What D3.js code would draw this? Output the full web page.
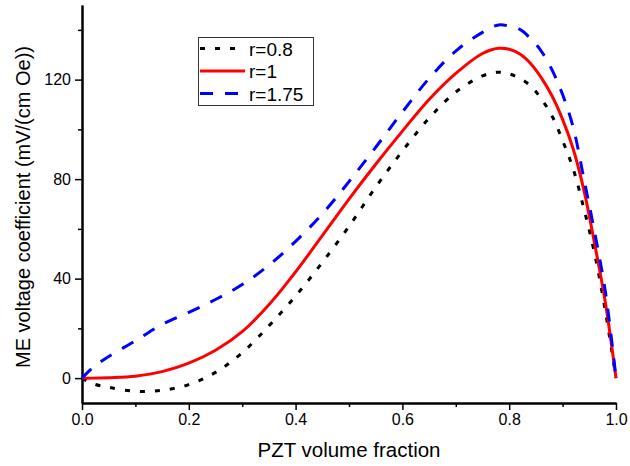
<!DOCTYPE html>
<html>
<head>
<meta charset="utf-8">
<script src="https://cdn.jsdelivr.net/npm/d3@7"></script>
<style>
  body { margin: 0; background: #fff; }
  svg { font-family: "Liberation Sans", Arial, sans-serif; }
</style>
</head>
<body>
<div id="chart"></div>
<script>
const width = 630;
const height = 466;
const margin = { left: 82, right: 14, top: 5, bottom: 63 };

// PZT volume fraction (shared x grid)
var fraction = [0, 0.02, 0.05, 0.1, 0.15, 0.2, 0.25, 0.3, 0.35, 0.4, 0.45, 0.5, 0.55, 0.6,
    0.65, 0.7, 0.75, 0.78, 0.8, 0.82, 0.84, 0.86, 0.88, 0.9, 0.92, 0.94, 0.96, 0.98, 1.0];

// ME voltage coefficient, mV/(cm Oe)
var r08 = [0, -2.2, -3.7, -5.3, -4.9, -2.6, 2.3, 10.2, 21, 33, 46.5, 61, 76.8, 91.3,
    104.5, 115, 121.5, 123, 122.3, 120.5, 117.5, 112.3, 105.5, 95.5, 84, 68, 50, 27, 0];
var r1 = [0, 0, 0.2, 0.8, 2.6, 6.0, 11.2, 18.7, 29.5, 42.7, 57.3, 72, 86, 99.3,
    112, 122.5, 130.5, 132.6, 132.2, 130.3, 126.5, 120.8, 113.5, 104, 92, 75.5, 54, 30.5, 0];
var r175 = [0, 4.2, 8.7, 15, 21.6, 26.4, 31.6, 37.6, 45.4, 55, 66, 79, 92.8, 107,
    120.5, 131.5, 139, 142, 141.5, 140.2, 136.5, 131.5, 124, 114, 100.7, 80, 58.6, 34.9, 0];

var seriesNames = ["r=0.8", "r=1", "r=1.75"];
var seriesValues = [r08, r1, r175];
var seriesColors = ["#000000", "#ff0000", "#0000ff"];
var seriesDash = ["5,10", null, "13,12"];

var xTicks = [0, 0.2, 0.4, 0.6, 0.8, 1.0];
var xMinor = [0.1, 0.3, 0.5, 0.7, 0.9];
var yTicks = [0, 40, 80, 120];
var yMinor = [20, 60, 100, 140];

var svg = d3.select('#chart').append('svg')
    .attr('width', width)
    .attr('height', height);

var xScale = d3.scaleLinear().domain([0, 1]).range([margin.left, width - margin.right]);
var yScale = d3.scaleLinear().domain([-10, 150]).range([height - margin.bottom, margin.top]);

// axes
var xAxis = d3.axisBottom(xScale).tickValues(xTicks).tickFormat(d3.format('.1f')).tickSizeInner(7).tickSizeOuter(0).tickPadding(4);
var xAxisMinor = d3.axisBottom(xScale).tickValues(xMinor).tickFormat('').tickSizeInner(4).tickSizeOuter(0);
var yAxis = d3.axisLeft(yScale).tickValues(yTicks).tickSizeInner(7).tickSizeOuter(0).tickPadding(4);
var yAxisMinor = d3.axisLeft(yScale).tickValues(yMinor).tickFormat('').tickSizeInner(4).tickSizeOuter(0);

function styleAxis(g) {
    g.select('.domain').attr('stroke', '#000').attr('stroke-width', 2);
    g.selectAll('.tick line').attr('stroke', '#000').attr('stroke-width', 1.5);
    g.selectAll('.tick text').attr('fill', '#000')
        .style('font-family', '"Liberation Sans", Arial, sans-serif')
        .style('font-size', '16px');
}

svg.append('g')
    .attr('transform', `translate(0,${yScale(-10)})`)
    .call(xAxisMinor).call(styleAxis);
svg.append('g')
    .attr('transform', `translate(0,${yScale(-10)})`)
    .call(xAxis).call(styleAxis);
svg.append('g')
    .attr('transform', `translate(${xScale(0)},0)`)
    .call(yAxisMinor).call(styleAxis);
svg.append('g')
    .attr('transform', `translate(${xScale(0)},0)`)
    .call(yAxis).call(styleAxis);

// axis titles
svg.append('text')
    .attr('x', 349)
    .attr('y', 457)
    .attr('text-anchor', 'middle')
    .style('font-size', '20.5px')
    .text('PZT volume fraction');

svg.append('text')
    .attr('transform', 'translate(30,207) rotate(-90)')
    .attr('text-anchor', 'middle')
    .style('font-size', '20px')
    .text('ME voltage coefficient (mV/(cm Oe))');

// lines
var line = d3.line()
    .x((d, i) => xScale(fraction[i]))
    .y(d => yScale(d))
    .curve(d3.curveCatmullRom.alpha(0.5));

var lines = svg.append('g');
seriesValues.forEach((vals, k) => {
    lines.append('path')
        .attr('d', line(vals))
        .style('fill', 'none')
        .style('stroke', seriesColors[k])
        .style('stroke-width', 3)
        .style('stroke-dasharray', seriesDash[k]);
});

// legend
var legend = svg.append('g');
legend.append('rect')
    .attr('x', 198.5).attr('y', 37.5)
    .attr('width', 115).attr('height', 68)
    .style('fill', '#fff')
    .style('stroke', '#333')
    .style('stroke-width', 1);

seriesNames.forEach((name, k) => {
    var y = 48.5 + k * 22.5;
    legend.append('line')
        .attr('x1', 200).attr('x2', 245)
        .attr('y1', y).attr('y2', y)
        .style('stroke', seriesColors[k])
        .style('stroke-width', 3)
        .style('stroke-dasharray', seriesDash[k]);
    legend.append('text')
        .attr('x', 249)
        .attr('y', y + 7)
        .style('font-size', '19px')
        .text(name);
});
</script>
</body>
</html>
